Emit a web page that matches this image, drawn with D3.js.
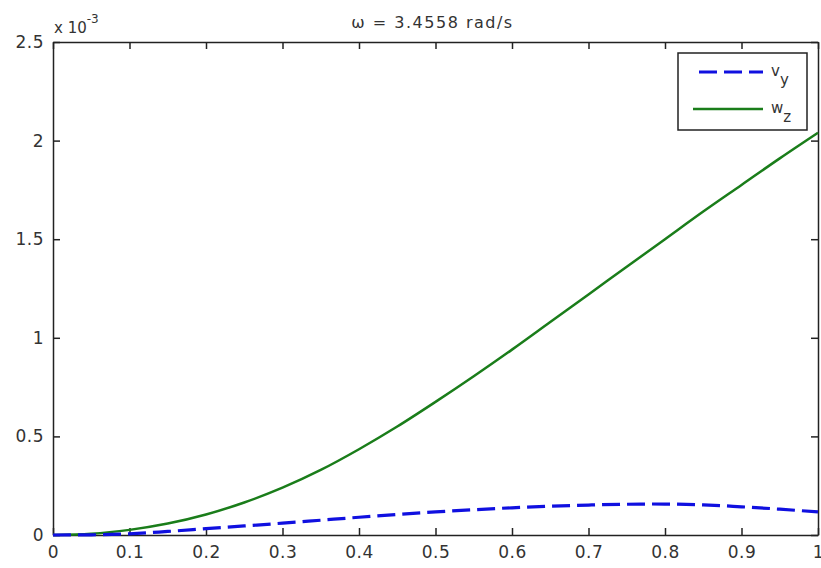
<!DOCTYPE html>
<html>
<head>
<meta charset="utf-8">
<script src="https://d3js.org/d3.v7.min.js"></script>
<style>
  body { margin: 0; background: #fff; }
  text { font-family: "DejaVu Sans", "Liberation Sans", Arial, sans-serif; fill: #333; }
</style>
</head>
<body>
<div id="chart"></div>
<script>
// data (values in units of 1e-3)
var xs = [0, 0.05, 0.1, 0.15, 0.2, 0.25, 0.3, 0.35, 0.4, 0.45, 0.5,
          0.55, 0.6, 0.65, 0.7, 0.75, 0.8, 0.85, 0.9, 0.95, 1.0];
var vy = [0, 0.001, 0.006, 0.018, 0.032, 0.046, 0.060, 0.075, 0.090, 0.104, 0.117,
          0.128, 0.138, 0.146, 0.152, 0.156, 0.157, 0.153, 0.143, 0.131, 0.117];
var wz = [0, 0.006, 0.026, 0.058, 0.104, 0.165, 0.24, 0.33, 0.435, 0.55, 0.675,
          0.805, 0.94, 1.08, 1.22, 1.36, 1.50, 1.64, 1.775, 1.91, 2.04];
var xTicks = [0, 0.1, 0.2, 0.3, 0.4, 0.5, 0.6, 0.7, 0.8, 0.9, 1];
var yTicks = [0, 0.5, 1, 1.5, 2, 2.5];
var titleText = "\u03c9 = 3.4558 rad/s";

var W = 821, H = 568;
var m = { top: 42, right: 3, bottom: 33, left: 53 };
var w = W - m.left - m.right, h = H - m.top - m.bottom;

var svg = d3.select('#chart').append('svg')
    .attr('width', W).attr('height', H);
var g = svg.append('g')
    .attr('transform', 'translate(' + m.left + ',' + m.top + ')');

var x = d3.scaleLinear().domain([0, 1]).range([0, w]);
var y = d3.scaleLinear().domain([0, 2.5]).range([h, 0]);

// axes, ticks pointing inward on all four sides
var fmt = function(d) { return d3.format('')(d); };
var xb = g.append('g').attr('transform', 'translate(0,' + h + ')')
    .call(d3.axisBottom(x).tickValues(xTicks).tickSizeInner(-7).tickSizeOuter(0).tickPadding(11).tickFormat(fmt));
var xt = g.append('g')
    .call(d3.axisTop(x).tickValues(xTicks).tickSizeInner(-7).tickSizeOuter(0).tickFormat(''));
var yl = g.append('g')
    .call(d3.axisLeft(y).tickValues(yTicks).tickSizeInner(-7).tickSizeOuter(0).tickPadding(9).tickFormat(fmt));
var yr = g.append('g').attr('transform', 'translate(' + w + ',0)')
    .call(d3.axisRight(y).tickValues(yTicks).tickSizeInner(-7).tickSizeOuter(0).tickFormat(''));
[xb, xt, yl, yr].forEach(function(a) {
  a.selectAll('path').attr('stroke', '#222').attr('stroke-width', 1.5);
  a.selectAll('line').attr('stroke', '#222').attr('stroke-width', 1.5);
  a.selectAll('text').attr('font-size', 17).attr('fill', '#444')
    .style('letter-spacing', '0.5px')
    .style('font-family', '"DejaVu Sans", Arial, sans-serif');
});

// lines
var line = function(vals) {
  return d3.line()
    .x(function(d, i) { return x(xs[i]); })
    .y(function(d) { return y(d); })
    .curve(d3.curveCatmullRom)(vals);
};
g.append('path').attr('d', line(wz))
  .attr('fill', 'none').attr('stroke', '#1a7d1a').attr('stroke-width', 2.5);
g.append('path').attr('d', line(vy))
  .attr('fill', 'none').attr('stroke', '#1010e0').attr('stroke-width', 3.2)
  .attr('stroke-dasharray', '18,7');

// title
svg.append('text').attr('x', m.left + w / 2 - 3).attr('y', 28)
  .attr('text-anchor', 'middle').attr('font-size', 16)
  .style('letter-spacing', '1.5px').text(titleText);

// exponent label
var ex = svg.append('text').attr('x', 54).attr('y', 33).attr('font-size', 15);
ex.append('tspan').text('x 10');
ex.append('tspan').attr('dy', -10).attr('font-size', 12).text('-3');

// legend
var lg = svg.append('g');
lg.append('rect').attr('x', 678).attr('y', 53).attr('width', 129).attr('height', 77)
  .attr('fill', '#fff').attr('stroke', '#222').attr('stroke-width', 1.5);
var items = [
  { name: 'v', sub: 'y', color: '#1010e0', dash: '18,7', w: 3.2 },
  { name: 'w', sub: 'z', color: '#1a7d1a', dash: null, w: 2.5 }
];
items.forEach(function(it, i) {
  var yy = 72 + i * 37;
  lg.append('line').attr('x1', i === 0 ? 699 : 693).attr('x2', 763)
    .attr('y1', yy).attr('y2', yy)
    .attr('stroke', it.color).attr('stroke-width', it.w)
    .attr('stroke-dasharray', it.dash);
  var t = lg.append('text').attr('x', 771).attr('y', yy + 4).attr('font-size', 15);
  t.append('tspan').text(it.name);
  t.append('tspan').attr('dy', 9).attr('font-size', 15).text(it.sub);
});
</script>
</body>
</html>
